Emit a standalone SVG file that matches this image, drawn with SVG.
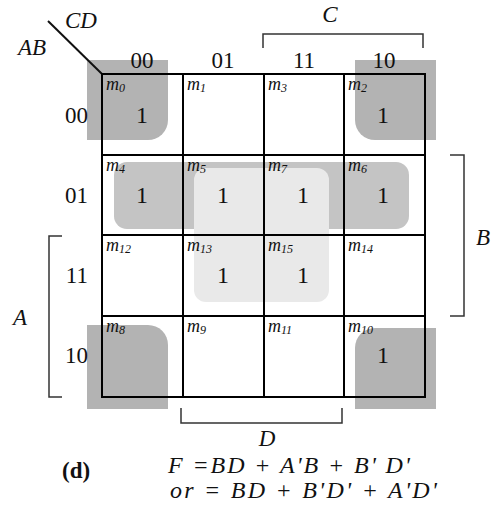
<svg xmlns="http://www.w3.org/2000/svg" width="499" height="529" viewBox="0 0 499 529">
<style>
text{font-family:"Liberation Serif","Times New Roman",serif;fill:#111}
.hd{font-size:23px}
.it{font-style:italic;font-size:23px}
.eq{font-style:italic;font-size:24px}
.m{font-style:italic;font-size:18px}
.sub{font-size:12px}
.one{font-size:24px;text-anchor:middle}
.br{fill:none;stroke:#333;stroke-width:1.5}
.grid{fill:none;stroke:#000;stroke-width:2}
.corner{fill:#b3b3b3}
</style>
<rect width="499" height="529" fill="#fff"/>
<g id="groups">
<path id="g-m0" class="corner" d="M87,60 H168 V120 A20,20 0 0 1 148,140 H87 Z"/>
<path id="g-m2" class="corner" d="M355,60 H436 V140 H375 A20,20 0 0 1 355,120 Z"/>
<path id="g-m8" class="corner" d="M87,325 H148 A20,20 0 0 1 168,345 V409 H87 Z"/>
<path id="g-m10" class="corner" d="M375,328 H436 V409 H355 V348 A20,20 0 0 1 375,328 Z"/>
<rect id="g-AB" x="114" y="162" width="295" height="67" rx="13" fill="#c4c4c4"/>
<rect id="g-BD" x="194" y="168" width="135" height="134" rx="12" fill="#e9e9e9"/>
</g>
<g id="connectors">
<line x1="48" y1="21" x2="102" y2="74" stroke="#111" stroke-width="2"/>
<path class="br" d="M263,48 V34 H423 V48"/>
<path class="br" d="M450,155 H464 V316 H450"/>
<path class="br" d="M62,236 H49 V397 H62"/>
<path class="br" d="M181,408 V423 H342 V408"/>
</g>
<g id="grid">
<rect class="grid" x="102" y="74" width="323" height="323" stroke-width="3"/>
<path class="grid" d="M183,74 V397 M264,74 V397 M344,74 V397 M102,155 H425 M102,235 H425 M102,316 H425"/>
</g>
<g id="labels">
<text class="it" x="65" y="28">CD</text>
<text class="it" x="18" y="55">AB</text>
<text class="it" x="330" y="22" text-anchor="middle">C</text>
<text class="it" x="483" y="245" text-anchor="middle">B</text>
<text class="it" x="20" y="325" text-anchor="middle">A</text>
<text class="it" x="267" y="446" text-anchor="middle">D</text>
<text class="hd" x="142" y="68" text-anchor="middle">00</text>
<text class="hd" x="223" y="68" text-anchor="middle">01</text>
<text class="hd" x="304" y="68" text-anchor="middle">11</text>
<text class="hd" x="384" y="68" text-anchor="middle">10</text>
<text class="hd" x="88" y="123" text-anchor="end">00</text>
<text class="hd" x="88" y="203" text-anchor="end">01</text>
<text class="hd" x="88" y="283" text-anchor="end">11</text>
<text class="hd" x="88" y="363" text-anchor="end">10</text>
</g>
<g id="cells">
<g id="c0"><text class="m" x="106" y="90">m<tspan class="sub" dy="2">0</tspan></text><text class="one" x="142" y="123">1</text></g>
<g id="c1"><text class="m" x="187" y="90">m<tspan class="sub" dy="2">1</tspan></text></g>
<g id="c3"><text class="m" x="268" y="90">m<tspan class="sub" dy="2">3</tspan></text></g>
<g id="c2"><text class="m" x="348" y="90">m<tspan class="sub" dy="2">2</tspan></text><text class="one" x="383" y="123">1</text></g>
<g id="c4"><text class="m" x="106" y="171">m<tspan class="sub" dy="2">4</tspan></text><text class="one" x="142" y="203">1</text></g>
<g id="c5"><text class="m" x="187" y="171">m<tspan class="sub" dy="2">5</tspan></text><text class="one" x="223" y="203">1</text></g>
<g id="c7"><text class="m" x="268" y="171">m<tspan class="sub" dy="2">7</tspan></text><text class="one" x="303" y="203">1</text></g>
<g id="c6"><text class="m" x="348" y="171">m<tspan class="sub" dy="2">6</tspan></text><text class="one" x="383" y="203">1</text></g>
<g id="c12"><text class="m" x="106" y="251">m<tspan class="sub" dy="2">12</tspan></text></g>
<g id="c13"><text class="m" x="187" y="251">m<tspan class="sub" dy="2">13</tspan></text><text class="one" x="223" y="283">1</text></g>
<g id="c15"><text class="m" x="268" y="251">m<tspan class="sub" dy="2">15</tspan></text><text class="one" x="303" y="283">1</text></g>
<g id="c14"><text class="m" x="348" y="251">m<tspan class="sub" dy="2">14</tspan></text></g>
<g id="c8"><text class="m" x="106" y="332">m<tspan class="sub" dy="2">8</tspan></text></g>
<g id="c9"><text class="m" x="187" y="332">m<tspan class="sub" dy="2">9</tspan></text></g>
<g id="c11"><text class="m" x="268" y="332">m<tspan class="sub" dy="2">11</tspan></text></g>
<g id="c10"><text class="m" x="348" y="332">m<tspan class="sub" dy="2">10</tspan></text><text class="one" x="383" y="363">1</text></g>
</g>
<g id="caption">
<text x="62" y="478" font-size="23" font-weight="bold">(d)</text>
<text class="eq" x="168" y="473" textLength="242" lengthAdjust="spacing">F =BD + A'B + B' D'</text>
<text class="eq" x="170" y="498" textLength="267" lengthAdjust="spacing">or = BD + B'D' + A'D'</text>
</g>
</svg>
